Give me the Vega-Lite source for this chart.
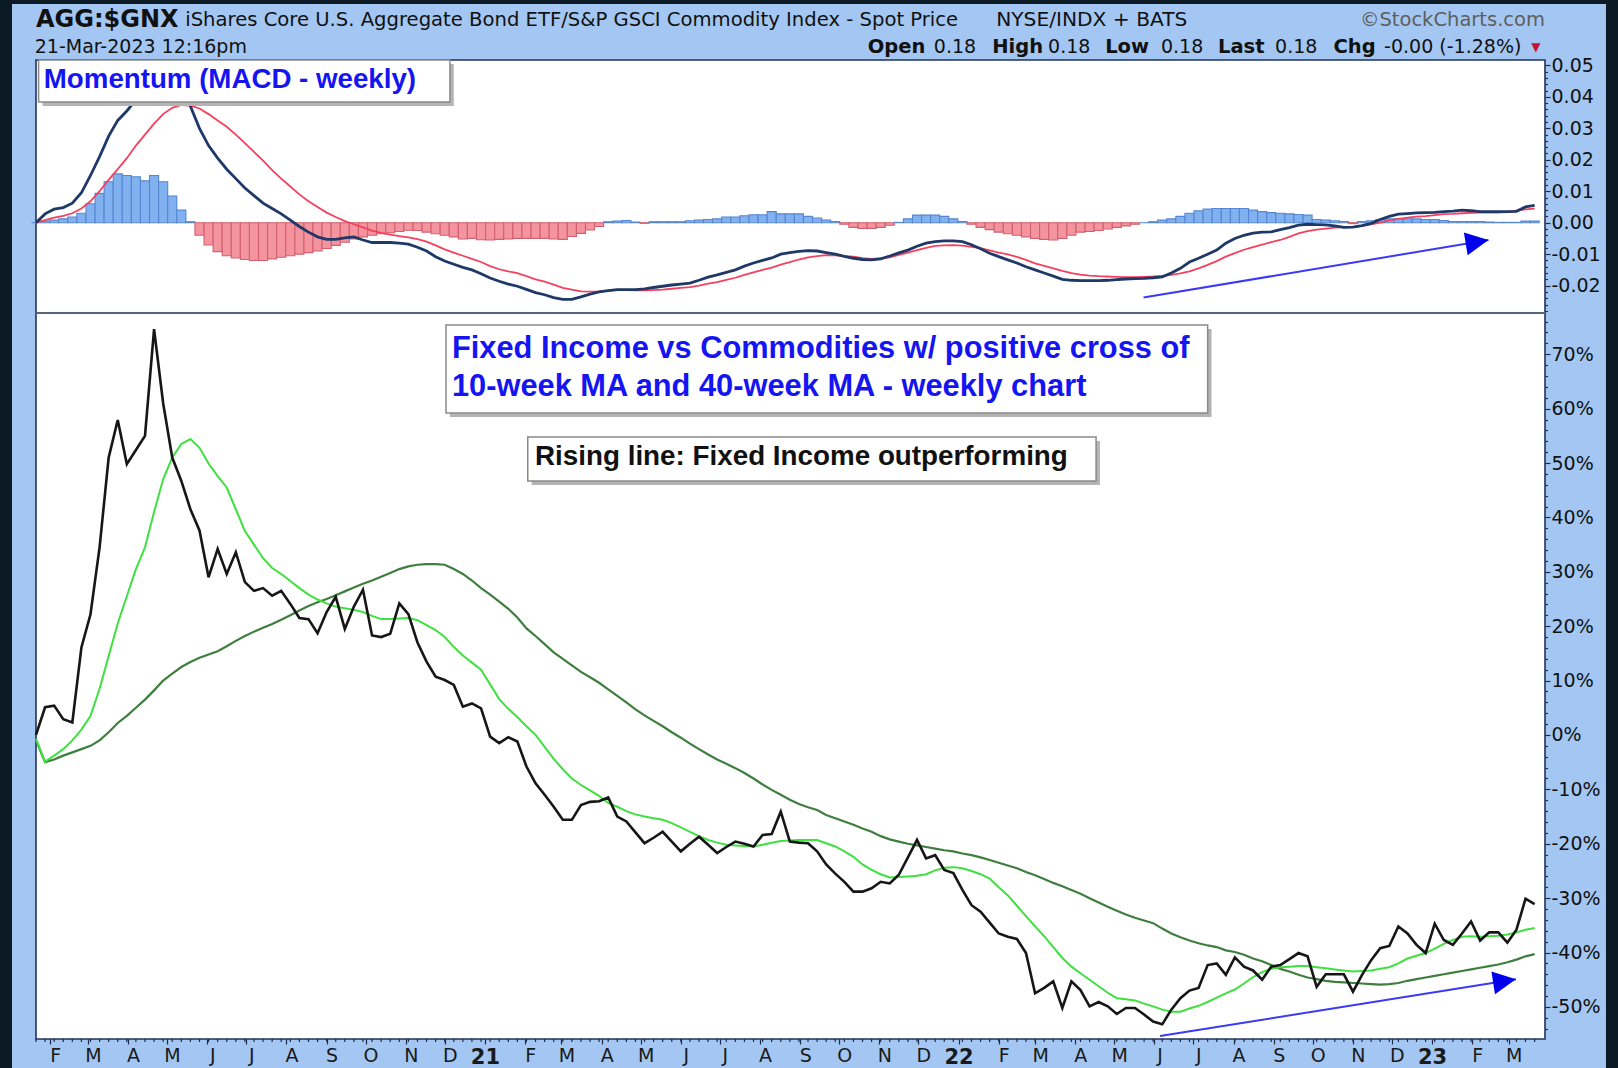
{
  "$schema": "https://vega.github.io/schema/vega-lite/v6.json",
  "width": 1509,
  "height": 979,
  "autosize": {"type": "none"},
  "padding": {"left": 36, "top": 60, "right": 73, "bottom": 29},
  "background": "#0c1a26",
  "config": {
    "view": {"stroke": null},
    "axis": {"grid": false, "domain": false, "labelFont": "DejaVu Sans", "labelColor": "#111111", "tickColor": "#1c2c4c", "tickWidth": 1.2, "labelFontSize": 19}
  },
  "datasets": {
    "w": [
      {"d":"2020-01-21","p":0,"a":-0.7,"b":-1.0,"m":0,"s":0,"h":0},
      {"d":"2020-01-28","p":5.1,"a":-4.9,"b":-5.0,"m":0.0028,"s":0.0008,"h":0.0005},
      {"d":"2020-02-04","p":5.4,"a":-3.8,"b":-4.5,"m":0.0043,"s":0.0016,"h":0.0008},
      {"d":"2020-02-11","p":2.9,"a":-2.6,"b":-3.8,"m":0.0048,"s":0.0022,"h":0.0012},
      {"d":"2020-02-18","p":2.3,"a":-1.0,"b":-3.2,"m":0.0062,"s":0.0030,"h":0.0018},
      {"d":"2020-02-25","p":16.1,"a":1.0,"b":-2.6,"m":0.0095,"s":0.0045,"h":0.0030},
      {"d":"2020-03-03","p":22.2,"a":3.5,"b":-2.0,"m":0.0150,"s":0.0068,"h":0.0060},
      {"d":"2020-03-10","p":34.5,"a":8.5,"b":-1.0,"m":0.0210,"s":0.0100,"h":0.0093},
      {"d":"2020-03-17","p":51.0,"a":14.5,"b":0.5,"m":0.0275,"s":0.0136,"h":0.0130},
      {"d":"2020-03-24","p":57.9,"a":20.5,"b":2.2,"m":0.0325,"s":0.0170,"h":0.0155},
      {"d":"2020-03-31","p":49.8,"a":25.5,"b":3.5,"m":0.0355,"s":0.0205,"h":0.0150},
      {"d":"2020-04-07","p":52.4,"a":30.5,"b":5.0,"m":0.0390,"s":0.0245,"h":0.0146},
      {"d":"2020-04-14","p":55.0,"a":34.5,"b":6.5,"m":0.0420,"s":0.0280,"h":0.0133},
      {"d":"2020-04-21","p":74.6,"a":41.0,"b":8.2,"m":0.0455,"s":0.0315,"h":0.0150},
      {"d":"2020-04-28","p":61.0,"a":47.0,"b":10.0,"m":0.0465,"s":0.0345,"h":0.0130},
      {"d":"2020-05-05","p":51.0,"a":51.0,"b":11.3,"m":0.0445,"s":0.0365,"h":0.0085},
      {"d":"2020-05-12","p":46.7,"a":53.5,"b":12.5,"m":0.0410,"s":0.0374,"h":0.0040},
      {"d":"2020-05-19","p":41.5,"a":54.4,"b":13.4,"m":0.0370,"s":0.0372,"h":0.0003},
      {"d":"2020-05-26","p":37.6,"a":52.8,"b":14.2,"m":0.0300,"s":0.0363,"h":-0.0040},
      {"d":"2020-06-02","p":29.0,"a":49.9,"b":14.8,"m":0.0245,"s":0.0345,"h":-0.0071},
      {"d":"2020-06-09","p":34.2,"a":47.6,"b":15.4,"m":0.0205,"s":0.0325,"h":-0.0092},
      {"d":"2020-06-16","p":29.6,"a":45.5,"b":16.3,"m":0.0170,"s":0.0305,"h":-0.0105},
      {"d":"2020-06-23","p":33.6,"a":41.5,"b":17.3,"m":0.0140,"s":0.0280,"h":-0.0112},
      {"d":"2020-06-30","p":28.1,"a":37.5,"b":18.2,"m":0.0110,"s":0.0253,"h":-0.0117},
      {"d":"2020-07-07","p":26.5,"a":35.0,"b":19.0,"m":0.0086,"s":0.0225,"h":-0.0120},
      {"d":"2020-07-14","p":27.0,"a":32.5,"b":19.7,"m":0.0062,"s":0.0197,"h":-0.0120},
      {"d":"2020-07-21","p":25.6,"a":30.7,"b":20.4,"m":0.0045,"s":0.0167,"h":-0.0115},
      {"d":"2020-07-28","p":26.5,"a":29.6,"b":21.2,"m":0.0028,"s":0.0140,"h":-0.0110},
      {"d":"2020-08-04","p":24.1,"a":28.3,"b":22.0,"m":0.0008,"s":0.0115,"h":-0.0105},
      {"d":"2020-08-11","p":21.5,"a":27.0,"b":22.9,"m":-0.0012,"s":0.0090,"h":-0.0100},
      {"d":"2020-08-18","p":21.3,"a":25.8,"b":23.7,"m":-0.0030,"s":0.0068,"h":-0.0095},
      {"d":"2020-08-25","p":18.7,"a":24.9,"b":24.4,"m":-0.0045,"s":0.0050,"h":-0.0090},
      {"d":"2020-09-01","p":22.6,"a":24.2,"b":25.0,"m":-0.0053,"s":0.0032,"h":-0.0082},
      {"d":"2020-09-08","p":25.4,"a":23.6,"b":25.7,"m":-0.0053,"s":0.0018,"h":-0.0072},
      {"d":"2020-09-15","p":19.5,"a":23.3,"b":26.4,"m":-0.0048,"s":0.0005,"h":-0.0062},
      {"d":"2020-09-22","p":23.6,"a":23.0,"b":27.1,"m":-0.0045,"s":-0.0005,"h":-0.0052},
      {"d":"2020-09-29","p":26.7,"a":22.6,"b":27.8,"m":-0.0055,"s":-0.0015,"h":-0.0045},
      {"d":"2020-10-06","p":18.3,"a":21.9,"b":28.4,"m":-0.0063,"s":-0.0025,"h":-0.0040},
      {"d":"2020-10-13","p":18.0,"a":21.3,"b":29.1,"m":-0.0063,"s":-0.0032,"h":-0.0035},
      {"d":"2020-10-20","p":18.6,"a":21.3,"b":29.8,"m":-0.0063,"s":-0.0038,"h":-0.0032},
      {"d":"2020-10-27","p":24.2,"a":21.4,"b":30.5,"m":-0.0065,"s":-0.0043,"h":-0.0028},
      {"d":"2020-11-03","p":22.2,"a":21.5,"b":31.0,"m":-0.0068,"s":-0.0047,"h":-0.0024},
      {"d":"2020-11-10","p":17.0,"a":21.1,"b":31.3,"m":-0.0078,"s":-0.0052,"h":-0.0025},
      {"d":"2020-11-17","p":13.5,"a":20.2,"b":31.4,"m":-0.0090,"s":-0.0060,"h":-0.0030},
      {"d":"2020-11-24","p":10.7,"a":19.3,"b":31.4,"m":-0.0108,"s":-0.0072,"h":-0.0035},
      {"d":"2020-12-01","p":10.1,"a":18.0,"b":31.3,"m":-0.0122,"s":-0.0085,"h":-0.0040},
      {"d":"2020-12-08","p":9.2,"a":16.2,"b":30.5,"m":-0.0132,"s":-0.0095,"h":-0.0045},
      {"d":"2020-12-15","p":5.2,"a":14.6,"b":29.6,"m":-0.0142,"s":-0.0105,"h":-0.0052},
      {"d":"2020-12-22","p":5.8,"a":13.3,"b":28.4,"m":-0.0150,"s":-0.0115,"h":-0.0050},
      {"d":"2020-12-29","p":4.9,"a":12.0,"b":27.0,"m":-0.0162,"s":-0.0125,"h":-0.0054},
      {"d":"2021-01-05","p":-0.3,"a":9.3,"b":25.8,"m":-0.0176,"s":-0.0138,"h":-0.0055},
      {"d":"2021-01-12","p":-1.5,"a":6.6,"b":24.5,"m":-0.0186,"s":-0.0148,"h":-0.0053},
      {"d":"2021-01-19","p":-0.4,"a":4.8,"b":23.2,"m":-0.0195,"s":-0.0155,"h":-0.0052},
      {"d":"2021-01-26","p":-1.2,"a":3.3,"b":21.6,"m":-0.0202,"s":-0.0160,"h":-0.0050},
      {"d":"2021-02-02","p":-5.8,"a":1.6,"b":19.6,"m":-0.0212,"s":-0.0170,"h":-0.0050},
      {"d":"2021-02-09","p":-8.9,"a":0.0,"b":18.2,"m":-0.0222,"s":-0.0180,"h":-0.0050},
      {"d":"2021-02-16","p":-11.0,"a":-2.2,"b":16.7,"m":-0.0229,"s":-0.0187,"h":-0.0050},
      {"d":"2021-02-23","p":-13.2,"a":-4.4,"b":15.2,"m":-0.0238,"s":-0.0197,"h":-0.0052},
      {"d":"2021-03-02","p":-15.6,"a":-6.3,"b":14.0,"m":-0.0244,"s":-0.0207,"h":-0.0053},
      {"d":"2021-03-09","p":-15.6,"a":-8.0,"b":12.8,"m":-0.0244,"s":-0.0213,"h":-0.0044},
      {"d":"2021-03-16","p":-12.9,"a":-9.2,"b":11.6,"m":-0.0236,"s":-0.0218,"h":-0.0034},
      {"d":"2021-03-23","p":-12.3,"a":-10.2,"b":10.6,"m":-0.0227,"s":-0.0219,"h":-0.0023},
      {"d":"2021-03-30","p":-12.2,"a":-11.2,"b":9.6,"m":-0.0220,"s":-0.0218,"h":-0.0012},
      {"d":"2021-04-06","p":-11.5,"a":-12.5,"b":8.4,"m":-0.0216,"s":-0.0216,"h":0.0003},
      {"d":"2021-04-13","p":-15.0,"a":-13.2,"b":7.2,"m":-0.0213,"s":-0.0214,"h":0.0005},
      {"d":"2021-04-20","p":-15.9,"a":-14.0,"b":6.0,"m":-0.0213,"s":-0.0214,"h":0.0007},
      {"d":"2021-04-27","p":-17.9,"a":-14.6,"b":4.7,"m":-0.0213,"s":-0.0215,"h":0.0002},
      {"d":"2021-05-04","p":-19.9,"a":-15.0,"b":3.6,"m":-0.0210,"s":-0.0215,"h":-0.0002},
      {"d":"2021-05-11","p":-18.9,"a":-15.3,"b":2.6,"m":-0.0206,"s":-0.0214,"h":0.0003},
      {"d":"2021-05-18","p":-17.8,"a":-15.6,"b":1.6,"m":-0.0202,"s":-0.0213,"h":0.0003},
      {"d":"2021-05-25","p":-19.6,"a":-16.2,"b":0.5,"m":-0.0198,"s":-0.0210,"h":0.0003},
      {"d":"2021-06-01","p":-21.4,"a":-17.0,"b":-0.5,"m":-0.0195,"s":-0.0207,"h":0.0003},
      {"d":"2021-06-08","p":-20.0,"a":-17.8,"b":-1.6,"m":-0.0192,"s":-0.0205,"h":0.0006},
      {"d":"2021-06-15","p":-18.7,"a":-18.6,"b":-2.6,"m":-0.0183,"s":-0.0200,"h":0.0008},
      {"d":"2021-06-22","p":-20.2,"a":-19.3,"b":-3.6,"m":-0.0173,"s":-0.0194,"h":0.0010},
      {"d":"2021-06-29","p":-21.7,"a":-19.8,"b":-4.5,"m":-0.0166,"s":-0.0189,"h":0.0012},
      {"d":"2021-07-06","p":-20.6,"a":-20.2,"b":-5.3,"m":-0.0158,"s":-0.0182,"h":0.0018},
      {"d":"2021-07-13","p":-19.6,"a":-20.3,"b":-6.1,"m":-0.0150,"s":-0.0175,"h":0.0018},
      {"d":"2021-07-20","p":-20.0,"a":-20.4,"b":-7.0,"m":-0.0138,"s":-0.0166,"h":0.0022},
      {"d":"2021-07-27","p":-20.5,"a":-20.5,"b":-8.0,"m":-0.0128,"s":-0.0158,"h":0.0025},
      {"d":"2021-08-03","p":-18.4,"a":-20.2,"b":-9.1,"m":-0.0120,"s":-0.0150,"h":0.0025},
      {"d":"2021-08-10","p":-18.2,"a":-19.8,"b":-10.1,"m":-0.0112,"s":-0.0143,"h":0.0035},
      {"d":"2021-08-17","p":-14.1,"a":-19.5,"b":-11.0,"m":-0.0100,"s":-0.0133,"h":0.0028},
      {"d":"2021-08-24","p":-19.6,"a":-19.4,"b":-11.9,"m":-0.0095,"s":-0.0125,"h":0.0028},
      {"d":"2021-08-31","p":-19.8,"a":-19.3,"b":-12.7,"m":-0.0091,"s":-0.0117,"h":0.0028},
      {"d":"2021-09-07","p":-19.9,"a":-19.3,"b":-13.3,"m":-0.0089,"s":-0.0110,"h":0.0020},
      {"d":"2021-09-14","p":-21.4,"a":-19.3,"b":-13.8,"m":-0.0090,"s":-0.0106,"h":0.0015},
      {"d":"2021-09-21","p":-23.8,"a":-19.9,"b":-14.7,"m":-0.0095,"s":-0.0103,"h":0.0008},
      {"d":"2021-09-28","p":-25.5,"a":-20.5,"b":-15.3,"m":-0.0100,"s":-0.0104,"h":0.0004},
      {"d":"2021-10-05","p":-27.0,"a":-21.4,"b":-15.9,"m":-0.0107,"s":-0.0106,"h":-0.0005},
      {"d":"2021-10-12","p":-28.8,"a":-22.4,"b":-16.5,"m":-0.0113,"s":-0.0108,"h":-0.0015},
      {"d":"2021-10-19","p":-28.8,"a":-23.8,"b":-17.2,"m":-0.0117,"s":-0.0113,"h":-0.0018},
      {"d":"2021-10-26","p":-28.2,"a":-24.8,"b":-17.8,"m":-0.0118,"s":-0.0115,"h":-0.0018},
      {"d":"2021-11-02","p":-27.0,"a":-25.6,"b":-18.6,"m":-0.0115,"s":-0.0113,"h":-0.0015},
      {"d":"2021-11-09","p":-27.3,"a":-26.2,"b":-19.2,"m":-0.0106,"s":-0.0110,"h":-0.0008},
      {"d":"2021-11-16","p":-25.7,"a":-26.1,"b":-19.6,"m":-0.0096,"s":-0.0102,"h":0.0001},
      {"d":"2021-11-23","p":-22.5,"a":-26.0,"b":-20.0,"m":-0.0087,"s":-0.0095,"h":0.0012},
      {"d":"2021-11-30","p":-19.3,"a":-25.9,"b":-20.3,"m":-0.0075,"s":-0.0087,"h":0.0024},
      {"d":"2021-12-07","p":-22.7,"a":-25.6,"b":-20.6,"m":-0.0065,"s":-0.0080,"h":0.0024},
      {"d":"2021-12-14","p":-22.1,"a":-24.9,"b":-20.9,"m":-0.0060,"s":-0.0074,"h":0.0024},
      {"d":"2021-12-21","p":-24.8,"a":-24.4,"b":-21.2,"m":-0.0058,"s":-0.0072,"h":0.0020},
      {"d":"2021-12-28","p":-25.4,"a":-24.3,"b":-21.4,"m":-0.0058,"s":-0.0071,"h":0.0012},
      {"d":"2022-01-04","p":-28.5,"a":-24.5,"b":-21.8,"m":-0.0060,"s":-0.0073,"h":0.0004},
      {"d":"2022-01-11","p":-31.3,"a":-25.0,"b":-22.1,"m":-0.0070,"s":-0.0077,"h":-0.0005},
      {"d":"2022-01-18","p":-32.5,"a":-25.6,"b":-22.5,"m":-0.0083,"s":-0.0081,"h":-0.0015},
      {"d":"2022-01-25","p":-34.5,"a":-26.4,"b":-23.0,"m":-0.0097,"s":-0.0088,"h":-0.0022},
      {"d":"2022-02-01","p":-36.5,"a":-28.0,"b":-23.5,"m":-0.0108,"s":-0.0095,"h":-0.0030},
      {"d":"2022-02-08","p":-37.1,"a":-29.5,"b":-24.0,"m":-0.0118,"s":-0.0101,"h":-0.0035},
      {"d":"2022-02-15","p":-37.5,"a":-31.4,"b":-24.5,"m":-0.0128,"s":-0.0109,"h":-0.0040},
      {"d":"2022-02-22","p":-40.1,"a":-33.3,"b":-25.2,"m":-0.0140,"s":-0.0118,"h":-0.0045},
      {"d":"2022-03-01","p":-47.5,"a":-35.2,"b":-25.8,"m":-0.0150,"s":-0.0129,"h":-0.0050},
      {"d":"2022-03-08","p":-46.5,"a":-37.0,"b":-26.5,"m":-0.0160,"s":-0.0137,"h":-0.0053},
      {"d":"2022-03-15","p":-45.3,"a":-39.0,"b":-27.2,"m":-0.0170,"s":-0.0145,"h":-0.0055},
      {"d":"2022-03-22","p":-50.2,"a":-41.0,"b":-27.8,"m":-0.0180,"s":-0.0153,"h":-0.0050},
      {"d":"2022-03-29","p":-45.3,"a":-42.6,"b":-28.5,"m":-0.0183,"s":-0.0160,"h":-0.0040},
      {"d":"2022-04-05","p":-46.9,"a":-43.8,"b":-29.2,"m":-0.0184,"s":-0.0165,"h":-0.0030},
      {"d":"2022-04-12","p":-49.9,"a":-45.0,"b":-30.0,"m":-0.0184,"s":-0.0168,"h":-0.0028},
      {"d":"2022-04-19","p":-49.1,"a":-46.2,"b":-30.8,"m":-0.0184,"s":-0.0170,"h":-0.0025},
      {"d":"2022-04-26","p":-49.9,"a":-47.4,"b":-31.6,"m":-0.0183,"s":-0.0171,"h":-0.0020},
      {"d":"2022-05-03","p":-51.3,"a":-48.4,"b":-32.3,"m":-0.0181,"s":-0.0172,"h":-0.0015},
      {"d":"2022-05-10","p":-50.2,"a":-48.6,"b":-33.0,"m":-0.0179,"s":-0.0173,"h":-0.0010},
      {"d":"2022-05-17","p":-50.2,"a":-48.8,"b":-33.6,"m":-0.0178,"s":-0.0173,"h":-0.0005},
      {"d":"2022-05-24","p":-51.4,"a":-49.4,"b":-34.1,"m":-0.0177,"s":-0.0172,"h":0.0000},
      {"d":"2022-05-31","p":-52.7,"a":-49.9,"b":-34.6,"m":-0.0175,"s":-0.0171,"h":0.0003},
      {"d":"2022-06-07","p":-53.2,"a":-50.5,"b":-35.6,"m":-0.0172,"s":-0.0169,"h":0.0008},
      {"d":"2022-06-14","p":-50.5,"a":-50.9,"b":-36.5,"m":-0.0160,"s":-0.0166,"h":0.0012},
      {"d":"2022-06-21","p":-48.4,"a":-50.9,"b":-37.2,"m":-0.0145,"s":-0.0161,"h":0.0020},
      {"d":"2022-06-28","p":-47.0,"a":-50.3,"b":-37.8,"m":-0.0125,"s":-0.0155,"h":0.0030},
      {"d":"2022-07-05","p":-46.5,"a":-49.8,"b":-38.3,"m":-0.0113,"s":-0.0145,"h":0.0038},
      {"d":"2022-07-12","p":-42.3,"a":-49.1,"b":-38.7,"m":-0.0100,"s":-0.0134,"h":0.0043},
      {"d":"2022-07-19","p":-42.0,"a":-48.3,"b":-39.0,"m":-0.0087,"s":-0.0122,"h":0.0045},
      {"d":"2022-07-26","p":-44.1,"a":-47.5,"b":-39.6,"m":-0.0065,"s":-0.0108,"h":0.0045},
      {"d":"2022-08-02","p":-40.9,"a":-46.8,"b":-39.9,"m":-0.0050,"s":-0.0097,"h":0.0045},
      {"d":"2022-08-09","p":-42.6,"a":-45.7,"b":-40.4,"m":-0.0040,"s":-0.0086,"h":0.0045},
      {"d":"2022-08-16","p":-43.3,"a":-44.5,"b":-41.1,"m":-0.0033,"s":-0.0078,"h":0.0040},
      {"d":"2022-08-23","p":-45.0,"a":-43.6,"b":-41.6,"m":-0.0030,"s":-0.0070,"h":0.0035},
      {"d":"2022-08-30","p":-42.6,"a":-43.0,"b":-42.3,"m":-0.0029,"s":-0.0062,"h":0.0032},
      {"d":"2022-09-06","p":-42.3,"a":-42.7,"b":-43.0,"m":-0.0022,"s":-0.0055,"h":0.0030},
      {"d":"2022-09-13","p":-41.2,"a":-42.6,"b":-43.5,"m":-0.0016,"s":-0.0045,"h":0.0028},
      {"d":"2022-09-20","p":-40.1,"a":-42.5,"b":-44.1,"m":-0.0008,"s":-0.0034,"h":0.0026},
      {"d":"2022-09-27","p":-40.7,"a":-42.5,"b":-44.6,"m":-0.0005,"s":-0.0027,"h":0.0024},
      {"d":"2022-10-04","p":-46.3,"a":-42.7,"b":-44.9,"m":-0.0006,"s":-0.0022,"h":0.0010},
      {"d":"2022-10-11","p":-44.0,"a":-42.9,"b":-45.2,"m":-0.0007,"s":-0.0019,"h":0.0008},
      {"d":"2022-10-18","p":-44.0,"a":-43.1,"b":-45.4,"m":-0.0010,"s":-0.0016,"h":0.0006},
      {"d":"2022-10-25","p":-44.0,"a":-43.3,"b":-45.5,"m":-0.0015,"s":-0.0014,"h":0.0004},
      {"d":"2022-11-01","p":-47.2,"a":-43.5,"b":-45.6,"m":-0.0014,"s":-0.0013,"h":-0.0003},
      {"d":"2022-11-08","p":-44.1,"a":-43.4,"b":-45.7,"m":-0.0009,"s":-0.0010,"h":0.0004},
      {"d":"2022-11-15","p":-41.4,"a":-43.3,"b":-45.8,"m":-0.0002,"s":-0.0005,"h":0.0006},
      {"d":"2022-11-22","p":-39.2,"a":-43.0,"b":-45.9,"m":0.0010,"s":0.0000,"h":0.0010},
      {"d":"2022-11-29","p":-38.8,"a":-42.7,"b":-45.8,"m":0.0020,"s":0.0007,"h":0.0012},
      {"d":"2022-12-06","p":-35.2,"a":-42.0,"b":-45.6,"m":0.0027,"s":0.0012,"h":0.0012},
      {"d":"2022-12-13","p":-36.5,"a":-41.1,"b":-45.2,"m":0.0029,"s":0.0016,"h":0.0012},
      {"d":"2022-12-20","p":-38.6,"a":-40.6,"b":-44.9,"m":0.0031,"s":0.0019,"h":0.0012},
      {"d":"2022-12-27","p":-40.1,"a":-40.1,"b":-44.6,"m":0.0032,"s":0.0021,"h":0.0010},
      {"d":"2023-01-03","p":-34.7,"a":-39.3,"b":-44.3,"m":0.0033,"s":0.0024,"h":0.0010},
      {"d":"2023-01-10","p":-37.7,"a":-38.4,"b":-44.0,"m":0.0035,"s":0.0027,"h":0.0007},
      {"d":"2023-01-17","p":-38.6,"a":-37.7,"b":-43.7,"m":0.0037,"s":0.0028,"h":0.0004},
      {"d":"2023-01-24","p":-36.5,"a":-37.1,"b":-43.4,"m":0.0040,"s":0.0030,"h":0.0004},
      {"d":"2023-01-31","p":-34.3,"a":-37.0,"b":-43.1,"m":0.0038,"s":0.0031,"h":0.0004},
      {"d":"2023-02-07","p":-37.8,"a":-37.1,"b":-42.8,"m":0.0035,"s":0.0032,"h":0.0004},
      {"d":"2023-02-14","p":-36.3,"a":-37.0,"b":-42.5,"m":0.0035,"s":0.0032,"h":0.0002},
      {"d":"2023-02-21","p":-36.3,"a":-36.9,"b":-42.2,"m":0.0035,"s":0.0032,"h":0.0001},
      {"d":"2023-02-28","p":-38.2,"a":-36.7,"b":-41.8,"m":0.0035,"s":0.0034,"h":0.0001},
      {"d":"2023-03-07","p":-35.8,"a":-36.3,"b":-41.3,"m":0.0036,"s":0.0038,"h":0.0001},
      {"d":"2023-03-14","p":-30.1,"a":-35.8,"b":-40.7,"m":0.0050,"s":0.0042,"h":0.0005},
      {"d":"2023-03-21","p":-31.1,"a":-35.5,"b":-40.3,"m":0.0055,"s":0.0045,"h":0.0005}
    ]
  },
  "resolve": {"scale": {"y": "independent"}},
  "layer": [
    {
      "layer": [
        {
          "data": {"values": [{}]},
          "mark": {"type": "rect", "fill": "#a3c7f2"},
          "encoding": {
            "x": {"datum": {"year": 2020, "month": 1, "date": 2, "hours": 12}, "type": "temporal"},
            "x2": {"datum": {"year": 2023, "month": 5, "date": 15}},
            "y": {"datum": 134.4, "type": "quantitative"},
            "y2": {"datum": -61.6}
          }
        },
        {
          "data": {"values": [{}]},
          "mark": {"type": "rect", "fill": "#ffffff", "stroke": "#22335a", "strokeWidth": 1.6},
          "encoding": {
            "x": {"datum": {"year": 2020, "month": 1, "date": 21}, "type": "temporal"},
            "x2": {"datum": {"year": 2023, "month": 3, "date": 29}},
            "y": {"datum": 124.1, "type": "quantitative"},
            "y2": {"datum": -55.9}
          }
        },
        {
          "data": {"name": "w"},
          "mark": {"type": "rule", "color": "#1c2c4c", "strokeWidth": 1.2},
          "encoding": {
            "x": {"field": "d", "type": "temporal"},
            "y": {"datum": -55.9, "type": "quantitative"},
            "y2": {"datum": -56.45}
          }
        },
        {
          "data": {"name": "w"},
          "mark": {"type": "line", "color": "#3e7e3e", "strokeWidth": 2.2},
          "encoding": {
            "x": {
              "field": "d", "type": "temporal",
              "scale": {"domain": [{"year": 2020, "month": 1, "date": 21}, {"year": 2023, "month": 3, "date": 29}], "nice": false, "padding": 0},
              "axis": {
                "title": null, "orient": "bottom", "zindex": 2,
                "tickCount": {"interval": "month", "step": 1},
                "labelExpr": "month(datum.value) == 0 ? timeFormat(datum.value, '%y') : slice(timeFormat(datum.value, '%b'), 0, 1)",
                "labelFontWeight": {"condition": {"test": "month(datum.value) == 0", "value": "bold"}, "value": "normal"},
                "labelFontSize": {"condition": {"test": "month(datum.value) == 0", "value": 21}, "value": 19},
                "labelOffset": {"condition": {"test": "month(datum.value) == 0", "value": 0}, "value": 5},
                "labelOverlap": false, "labelFlush": false, "labelBound": false,
                "tickSize": 5, "labelPadding": 2, "labelColor": "#1a1a1a"
              }
            },
            "y": {
              "field": "b", "type": "quantitative",
              "scale": {"domain": [-55.9, 77.4], "range": [979, 254], "nice": false, "zero": false},
              "axis": {
                "title": null, "orient": "right", "zindex": 2, "tickCount": 500,
                "values": [-54, -52, -50, -48, -46, -44, -42, -40, -38, -36, -34, -32, -30, -28, -26, -24, -22, -20, -18, -16, -14, -12, -10, -8, -6, -4, -2, 0, 2, 4, 6, 8, 10, 12, 14, 16, 18, 20, 22, 24, 26, 28, 30, 32, 34, 36, 38, 40, 42, 44, 46, 48, 50, 52, 54, 56, 58, 60, 62, 64, 66, 68, 70, 72, 74, 76],
                "labelExpr": "round(datum.value) % 10 != 0 ? '' : (datum.value < 0 ? '-' + format(-datum.value, 'd') : format(datum.value, 'd')) + '%'",
                "tickSize": {"condition": {"test": "round(datum.value) % 10 != 0", "value": 2.5}, "value": 5},
                "labelOverlap": false,
                "labelPadding": 1
              }
            }
          }
        },
        {
          "data": {"name": "w"},
          "mark": {"type": "line", "color": "#3fe03f", "strokeWidth": 2},
          "encoding": {
            "x": {"field": "d", "type": "temporal"},
            "y": {"field": "a", "type": "quantitative"}
          }
        },
        {
          "data": {"name": "w"},
          "mark": {"type": "line", "color": "#161616", "strokeWidth": 2.6},
          "encoding": {
            "x": {"field": "d", "type": "temporal"},
            "y": {"field": "p", "type": "quantitative"}
          }
        },
        {
          "data": {"values": [{}]},
          "mark": {"type": "rect", "fill": "#b4b4b4"},
          "encoding": {
            "x": {"datum": {"year": 2020, "month": 12, "date": 5}, "type": "temporal"},
            "x2": {"datum": {"year": 2022, "month": 7, "date": 15}},
            "y": {"datum": 74.65, "type": "quantitative"},
            "y2": {"datum": 58.45}
          }
        },
        {
          "data": {"values": [{}]},
          "mark": {"type": "rect", "fill": "#ffffff", "stroke": "#8a8a8a", "strokeWidth": 1.5},
          "encoding": {
            "x": {"datum": {"year": 2020, "month": 12, "date": 2}, "type": "temporal"},
            "x2": {"datum": {"year": 2022, "month": 7, "date": 12}},
            "y": {"datum": 75.38, "type": "quantitative"},
            "y2": {"datum": 59.2}
          }
        },
        {
          "data": {"values": [{}]},
          "mark": {"type": "rect", "fill": "#b4b4b4"},
          "encoding": {
            "x": {"datum": {"year": 2021, "month": 2, "date": 6}, "type": "temporal"},
            "x2": {"datum": {"year": 2022, "month": 4, "date": 20}},
            "y": {"datum": 54.05, "type": "quantitative"},
            "y2": {"datum": 45.95}
          }
        },
        {
          "data": {"values": [{}]},
          "mark": {"type": "rect", "fill": "#ffffff", "stroke": "#8a8a8a", "strokeWidth": 1.5},
          "encoding": {
            "x": {"datum": {"year": 2021, "month": 2, "date": 3}, "type": "temporal"},
            "x2": {"datum": {"year": 2022, "month": 4, "date": 17}},
            "y": {"datum": 54.78, "type": "quantitative"},
            "y2": {"datum": 46.69}
          }
        },
        {
          "data": {"values": [{}]},
          "mark": {"type": "text", "text": "Fixed Income vs Commodities w/ positive cross of", "font": "Liberation Sans", "fontWeight": "bold", "fontSize": 30.8, "color": "#1515f2", "align": "left", "baseline": "middle"},
          "encoding": {
            "x": {"datum": {"year": 2020, "month": 12, "date": 6, "hours": 14}, "type": "temporal"},
            "y": {"datum": 71.0, "type": "quantitative"}
          }
        },
        {
          "data": {"values": [{}]},
          "mark": {"type": "text", "text": "10-week MA and 40-week MA - weekly chart", "font": "Liberation Sans", "fontWeight": "bold", "fontSize": 30.8, "color": "#1515f2", "align": "left", "baseline": "middle"},
          "encoding": {
            "x": {"datum": {"year": 2020, "month": 12, "date": 6, "hours": 14}, "type": "temporal"},
            "y": {"datum": 64.0, "type": "quantitative"}
          }
        },
        {
          "data": {"values": [{}]},
          "mark": {"type": "text", "text": "Rising line: Fixed Income outperforming", "font": "Liberation Sans", "fontWeight": "bold", "fontSize": 27.8, "color": "#111111", "align": "left", "baseline": "middle"},
          "encoding": {
            "x": {"datum": {"year": 2021, "month": 2, "date": 8, "hours": 14}, "type": "temporal"},
            "y": {"datum": 51.1, "type": "quantitative"}
          }
        },
        {
          "data": {"values": [{}]},
          "mark": {"type": "rule", "color": "#3a3af5", "strokeWidth": 2},
          "encoding": {
            "x": {"datum": {"year": 2022, "month": 6, "date": 5, "hours": 7}, "type": "temporal"},
            "x2": {"datum": {"year": 2023, "month": 3, "date": 6, "hours": 14}},
            "y": {"datum": -55.35, "type": "quantitative"},
            "y2": {"datum": -44.92}
          }
        },
        {
          "data": {"values": [{}]},
          "mark": {"type": "point", "shape": "M0,0 L-2,-1 L-2,1 Z", "size": 529, "filled": true, "color": "#0000ee", "opacity": 1, "strokeWidth": 0, "angle": -9.05},
          "encoding": {
            "x": {"datum": {"year": 2023, "month": 3, "date": 6, "hours": 14}, "type": "temporal"},
            "y": {"datum": -44.92, "type": "quantitative"}
          }
        }
      ]
    },
    {
      "layer": [
        {
          "data": {"name": "w"},
          "mark": {"type": "bar", "width": 9.08, "strokeWidth": 1.1},
          "encoding": {
            "x": {"field": "d", "type": "temporal"},
            "y": {
              "field": "h", "type": "quantitative",
              "scale": {"domain": [-0.0287, 0.0517], "range": [253, 0], "nice": false, "zero": false},
              "axis": {
                "title": null, "orient": "right", "zindex": 2, "tickCount": 500,
                "values": [-0.028, -0.026, -0.024, -0.022, -0.02, -0.018, -0.016, -0.014, -0.012, -0.01, -0.008, -0.006, -0.004, -0.002, 0, 0.002, 0.004, 0.006, 0.008, 0.01, 0.012, 0.014, 0.016, 0.018, 0.02, 0.022, 0.024, 0.026, 0.028, 0.03, 0.032, 0.034, 0.036, 0.038, 0.04, 0.042, 0.044, 0.046, 0.048, 0.05],
                "labelExpr": "round(datum.value * 1000) % 10 != 0 ? '' : (datum.value < -0.000001 ? '-' + format(-datum.value, '.2f') : format(abs(datum.value), '.2f'))",
                "tickSize": {"condition": {"test": "round(datum.value * 1000) % 10 != 0", "value": 2.5}, "value": 5},
                "labelOverlap": false,
                "labelPadding": 1
              }
            },
            "y2": {"datum": 0},
            "fill": {"condition": {"test": "datum.h >= 0", "value": "#82b1f0"}, "value": "#f4949f"},
            "stroke": {"condition": {"test": "datum.h >= 0", "value": "#5586d2"}, "value": "#d2606f"}
          }
        },
        {
          "data": {"name": "w"},
          "mark": {"type": "line", "color": "#f5405e", "strokeWidth": 1.8},
          "encoding": {
            "x": {"field": "d", "type": "temporal"},
            "y": {"field": "s", "type": "quantitative"}
          }
        },
        {
          "data": {"name": "w"},
          "mark": {"type": "line", "color": "#1e3868", "strokeWidth": 2.8},
          "encoding": {
            "x": {"field": "d", "type": "temporal"},
            "y": {"field": "m", "type": "quantitative"}
          }
        },
        {
          "data": {"values": [{}]},
          "mark": {"type": "rect", "fill": "#b4b4b4"},
          "encoding": {
            "x": {"datum": {"year": 2020, "month": 1, "date": 26}, "type": "temporal"},
            "x2": {"datum": {"year": 2020, "month": 12, "date": 8}},
            "y": {"datum": 0.0504, "type": "quantitative"},
            "y2": {"datum": 0.0371}
          }
        },
        {
          "data": {"values": [{}]},
          "mark": {"type": "rect", "fill": "#ffffff", "stroke": "#8a8a8a", "strokeWidth": 1.5},
          "encoding": {
            "x": {"datum": {"year": 2020, "month": 1, "date": 23}, "type": "temporal"},
            "x2": {"datum": {"year": 2020, "month": 12, "date": 5}},
            "y": {"datum": 0.0517, "type": "quantitative"},
            "y2": {"datum": 0.03835}
          }
        },
        {
          "data": {"values": [{}]},
          "mark": {"type": "text", "text": "Momentum (MACD - weekly)", "font": "Liberation Sans", "fontWeight": "bold", "fontSize": 27.7, "color": "#1515f2", "align": "left", "baseline": "middle"},
          "encoding": {
            "x": {"datum": {"year": 2020, "month": 1, "date": 27}, "type": "temporal"},
            "y": {"datum": 0.0453, "type": "quantitative"}
          }
        },
        {
          "data": {"values": [{}]},
          "mark": {"type": "rule", "color": "#3a3af5", "strokeWidth": 2},
          "encoding": {
            "x": {"datum": {"year": 2022, "month": 5, "date": 23, "hours": 14}, "type": "temporal"},
            "x2": {"datum": {"year": 2023, "month": 2, "date": 13, "hours": 10}},
            "y": {"datum": -0.0238, "type": "quantitative"},
            "y2": {"datum": -0.0055}
          }
        },
        {
          "data": {"values": [{}]},
          "mark": {"type": "point", "shape": "M0,0 L-2,-1 L-2,1 Z", "size": 529, "filled": true, "color": "#0000ee", "opacity": 1, "strokeWidth": 0, "angle": -9.5},
          "encoding": {
            "x": {"datum": {"year": 2023, "month": 2, "date": 13, "hours": 10}, "type": "temporal"},
            "y": {"datum": -0.0055, "type": "quantitative"}
          }
        },
        {
          "data": {"values": [{}]},
          "mark": {"type": "rule", "color": "#56647e", "strokeWidth": 2},
          "encoding": {
            "y": {"datum": -0.0287, "type": "quantitative"}
          }
        },
        {
          "data": {"values": [{}]},
          "mark": {"type": "text", "text": "AGG:$GNX", "font": "DejaVu Sans", "fontWeight": "bold", "fontSize": 24, "color": "#111111", "align": "left", "baseline": "middle"},
          "encoding": {
            "x": {"datum": {"year": 2020, "month": 1, "date": 21}, "type": "temporal"},
            "y": {"datum": 0.0644, "type": "quantitative"}
          }
        },
        {
          "data": {"values": [{}]},
          "mark": {"type": "text", "text": "iShares Core U.S. Aggregate Bond ETF/S&P GSCI Commodity Index - Spot Price", "font": "DejaVu Sans", "fontSize": 19.6, "color": "#111111", "align": "left", "baseline": "middle"},
          "encoding": {
            "x": {"datum": {"year": 2020, "month": 5, "date": 15}, "type": "temporal"},
            "y": {"datum": 0.0644, "type": "quantitative"}
          }
        },
        {
          "data": {"values": [{}]},
          "mark": {"type": "text", "text": "NYSE/INDX + BATS", "font": "DejaVu Sans", "fontSize": 20.2, "color": "#111111", "align": "left", "baseline": "middle"},
          "encoding": {
            "x": {"datum": {"year": 2022, "month": 1, "date": 30}, "type": "temporal"},
            "y": {"datum": 0.0644, "type": "quantitative"}
          }
        },
        {
          "data": {"values": [{}]},
          "mark": {"type": "text", "text": "©StockCharts.com", "font": "DejaVu Sans", "fontSize": 19.5, "color": "#5e5e5e", "align": "right", "baseline": "middle"},
          "encoding": {
            "x": {"datum": {"year": 2023, "month": 3, "date": 29}, "type": "temporal"},
            "y": {"datum": 0.0644, "type": "quantitative"}
          }
        },
        {
          "data": {"values": [
            {"t": "21-Mar-2023 12:16pm", "d": "2020-01-20"},
            {"t": "0.18", "d": "2021-12-13"},
            {"t": "0.18", "d": "2022-03-11"},
            {"t": "0.18", "d": "2022-06-06"},
            {"t": "0.18", "d": "2022-09-02"},
            {"t": "-0.00 (-1.28%)", "d": "2022-11-25"}
          ]},
          "mark": {"type": "text", "font": "DejaVu Sans", "fontSize": 19, "color": "#111111", "align": "left", "baseline": "middle"},
          "encoding": {
            "x": {"field": "d", "type": "temporal"},
            "y": {"datum": 0.0558, "type": "quantitative"},
            "text": {"field": "t"}
          }
        },
        {
          "data": {"values": [
            {"t": "Open", "d": "2021-10-23"},
            {"t": "High", "d": "2022-01-27"},
            {"t": "Low", "d": "2022-04-24"},
            {"t": "Last", "d": "2022-07-20"},
            {"t": "Chg", "d": "2022-10-17"}
          ]},
          "mark": {"type": "text", "font": "DejaVu Sans", "fontWeight": "bold", "fontSize": 19.5, "color": "#111111", "align": "left", "baseline": "middle"},
          "encoding": {
            "x": {"field": "d", "type": "temporal"},
            "y": {"datum": 0.0558, "type": "quantitative"},
            "text": {"field": "t"}
          }
        },
        {
          "data": {"values": [{}]},
          "mark": {"type": "text", "text": "▼", "font": "DejaVu Sans", "fontSize": 12, "color": "#c4122f", "align": "center", "baseline": "middle"},
          "encoding": {
            "x": {"datum": {"year": 2023, "month": 3, "date": 22}, "type": "temporal"},
            "y": {"datum": 0.0558, "type": "quantitative"}
          }
        }
      ]
    }
  ]
}
